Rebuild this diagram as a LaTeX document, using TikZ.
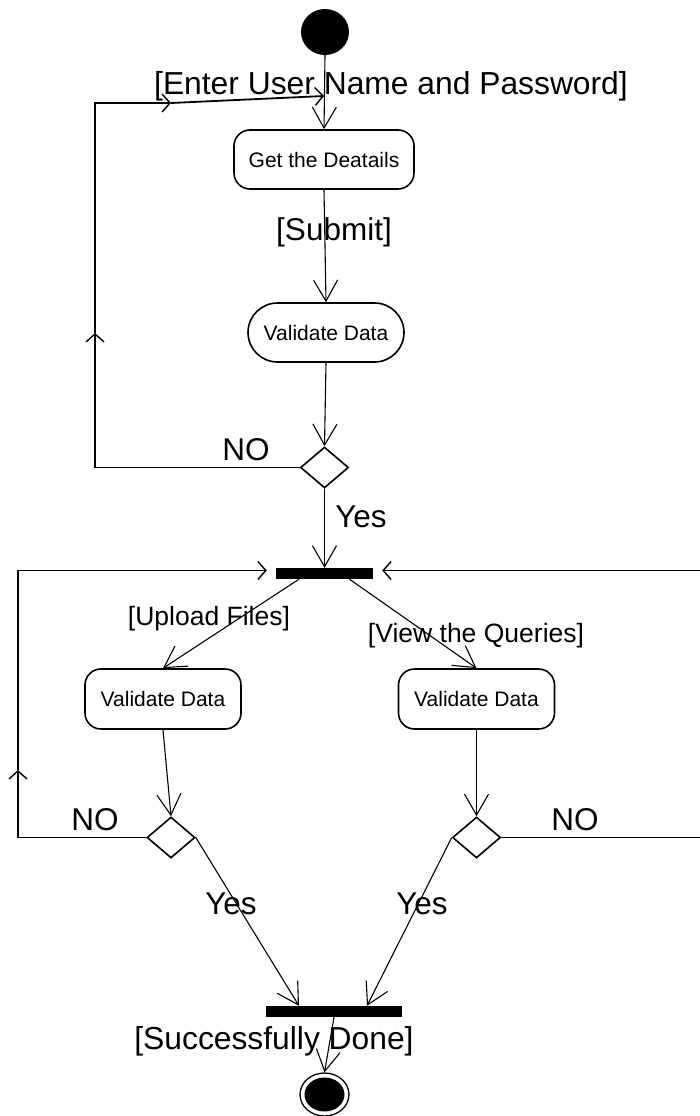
\documentclass[tikz,border=0pt]{standalone}
\usepackage{fontspec}
\setmainfont{Liberation Sans}
\usetikzlibrary{arrows.meta,shapes.geometric,calc}
\begin{document}
\begin{tikzpicture}[x=1pt,y=-1pt,
  act/.style={draw,line width=1.6pt,rounded corners=16pt,minimum height=59pt,inner sep=0pt,font=\fontsize{21}{25}\selectfont},
  decision/.style={diamond,draw,line width=1.6pt,minimum width=48pt,minimum height=41pt,inner sep=0pt},
  bar/.style={fill=black,minimum height=11pt,inner sep=0pt},
  lbl/.style={inner sep=0pt,font=\fontsize{31.5}{36}\selectfont},
  slbl/.style={inner sep=0pt,font=\fontsize{26.5}{30}\selectfont},
  conn/.style={line width=1.1pt,-{Straight Barb[length=21pt,width=24pt,line width=1.1pt]}},
  loopline/.style={line width=1.8pt},
  midtip/.style={-{Straight Barb[length=8pt,width=18pt,line width=1.4pt]}}
]
\useasboundingbox (0,0) rectangle (699,1116);

% nodes
\node[ellipse,fill=black,minimum width=48pt,minimum height=46pt,inner sep=0pt] (start) at (325,32) {};
\node[act,minimum width=180pt] (getdet) at (324,159.5) {Get the Deatails};
\node[act,minimum width=156pt,rounded corners=29.5pt] (val1) at (326,332.5) {Validate Data};
\node[decision] (dec1) at (324.5,467.5) {};
\node[bar,minimum width=97pt] (fork) at (324.5,573.5) {};
\node[act,minimum width=156pt,minimum height=60pt] (lbox) at (163,699) {Validate Data};
\node[act,minimum width=156pt,minimum height=60pt] (rbox) at (476.5,699) {Validate Data};
\node[decision] (ldec) at (171,837.5) {};
\node[decision] (rdec) at (476.5,837.5) {};
\node[bar,minimum width=136pt] (join) at (334,1011.5) {};
\node[ellipse,draw,line width=1.3pt,minimum width=49pt,minimum height=43pt,inner sep=0pt] (endo) at (324.5,1094.5) {};
\node[ellipse,fill=black,minimum width=40pt,minimum height=34pt,inner sep=0pt] (endi) at (endo.center) {};

% labels
\node[lbl,font=\fontsize{31.8}{36}\selectfont] (l1) at (391,86) {[Enter User Name and Password]};
\node[lbl] (l2) at (334,232) {[Submit]};
\node[lbl] (l3) at (246,450) {NO};
\node[lbl] (l4) at (361,517) {Yes};
\node[slbl] (l5) at (209,619) {[Upload Files]};
\node[slbl] (l6) at (476,636) {[View the Queries]};
\node[lbl] (l7) at (95,820) {NO};
\node[lbl] (l8) at (575,820) {NO};
\node[lbl] (l9) at (231,904) {Yes};
\node[lbl] (l10) at (422,904) {Yes};
\node[lbl,font=\fontsize{31.8}{36}\selectfont] (l11) at (274,1041) {[Successfully Done]};

% main flow
\draw[conn] (start.south) -- (getdet.north);
\draw[conn] (getdet.south) -- (val1.north);
\draw[conn] (val1.south) -- (dec1.north);
\draw[conn] (dec1.south) -- (fork.north);
\draw[conn] ([xshift=-25.5pt]fork.south) -- (lbox.north);
\draw[conn] ([xshift=25pt]fork.south) -- (rbox.north);
\draw[conn] (lbox.south) -- (ldec.north);
\draw[conn] (rbox.south) -- (rdec.north);
\draw[conn] (ldec.east) -- ([xshift=-35pt]join.north);
\draw[conn] (rdec.west) -- ([xshift=33pt]join.north);
\draw[conn] (join.south) -- (endo.north);

% top loop
\coordinate (entry) at (324,96);
\coordinate (tl1) at (95,333);
\coordinate (tl2) at (171,103);
\draw[loopline,midtip] (dec1.west) -| (tl1);
\draw[loopline,midtip] (tl1) -- (95,103) -- (tl2);
\draw[loopline,midtip] (tl2) -- (entry);

% lower left loop
\coordinate (ll1) at (18,770);
\draw[loopline,midtip] (ldec.west) -| (ll1);
\draw[loopline,midtip] (ll1) |- ([xshift=-9pt,yshift=3pt]fork.west);

% lower right loop (its vertical part lies just beyond the right edge)
\draw[loopline,midtip] (rdec.east) -| (701,570.5) -- ([xshift=9pt,yshift=3pt]fork.east);
\end{tikzpicture}
\end{document}
